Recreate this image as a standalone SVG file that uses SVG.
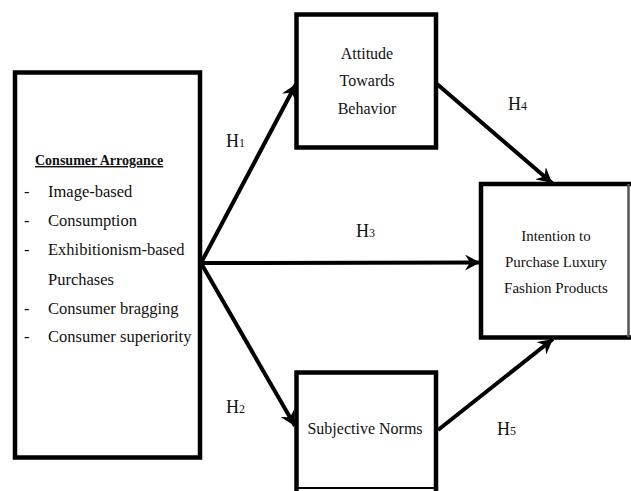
<svg xmlns="http://www.w3.org/2000/svg" width="631" height="491" viewBox="0 0 631 491">
<defs>
<style>
.box{fill:#fff;stroke:#000;stroke-width:4.5}
.t{font-family:"Liberation Serif","Times New Roman",serif;fill:#111}
.c{text-anchor:middle}
.edge{stroke:#000;stroke-width:4;fill:none}
.h{font-family:"Liberation Serif","Times New Roman",serif;font-size:18px;fill:#111}
.sub{font-size:12px}
</style>
<marker id="ah" viewBox="0 0 16 16" refX="15" refY="8" markerWidth="16" markerHeight="16" markerUnits="userSpaceOnUse" orient="auto">
<path d="M0,0 L15,8 L0,16 L5,8 Z" fill="#000"/>
</marker>
</defs>
<rect width="631" height="491" fill="#fff"/>
<g id="consumer-arrogance">
<rect class="box" x="15" y="72.5" width="185" height="385"/>
<text class="t" x="35" y="165" font-size="14" font-weight="bold" text-decoration="underline">Consumer Arrogance</text>
<g class="t" font-size="16.5">
<text x="24" y="197">-</text><text x="48" y="197">Image-based</text>
<text x="24" y="226">-</text><text x="48" y="226">Consumption</text>
<text x="24" y="255">-</text><text x="48" y="255">Exhibitionism-based</text>
<text x="48" y="285">Purchases</text>
<text x="24" y="314">-</text><text x="48" y="314">Consumer bragging</text>
<text x="24" y="342">-</text><text x="48" y="342">Consumer superiority</text>
</g>
</g>
<g id="attitude">
<rect class="box" x="296.5" y="14.5" width="139.5" height="133"/>
<g class="t c" font-size="16">
<text x="367" y="59">Attitude</text>
<text x="367" y="86">Towards</text>
<text x="367" y="114">Behavior</text>
</g>
</g>
<g id="intention">
<path d="M631,184 H481 V337.5 H631" fill="#fff" stroke="#000" stroke-width="4.5"/>
<line x1="628.5" y1="184" x2="628.5" y2="337.5" stroke="#555" stroke-width="2.5"/>
<g class="t c" font-size="15">
<text x="556" y="241">Intention to</text>
<text x="556" y="267">Purchase Luxury</text>
<text x="556" y="293">Fashion Products</text>
</g>
</g>
<g id="subjective-norms">
<path d="M296.5,491 V372.5 H436 V491" fill="#fff" stroke="#000" stroke-width="4.5"/>
<line x1="296.5" y1="488" x2="436" y2="488" stroke="#000" stroke-width="2"/>
<text class="t c" x="365" y="434" font-size="16">Subjective Norms</text>
</g>
<g id="connectors">
<line class="edge" x1="201" y1="263" x2="296" y2="84" marker-end="url(#ah)"/>
<line class="edge" x1="201" y1="263" x2="480" y2="262.5" stroke-width="5" marker-end="url(#ah)"/>
<line class="edge" x1="201" y1="263" x2="295" y2="426" marker-end="url(#ah)"/>
<line class="edge" x1="437" y1="84" x2="552" y2="183" marker-end="url(#ah)"/>
<line class="edge" x1="438" y1="430" x2="553" y2="339" marker-end="url(#ah)"/>
</g>
<g id="labels">
<text class="h" x="226" y="147">H<tspan class="sub">1</tspan></text>
<text class="h" x="226" y="413">H<tspan class="sub">2</tspan></text>
<text class="h" x="356" y="237">H<tspan class="sub">3</tspan></text>
<text class="h" x="508" y="110">H<tspan class="sub">4</tspan></text>
<text class="h" x="497" y="435">H<tspan class="sub">5</tspan></text>
</g>
</svg>
